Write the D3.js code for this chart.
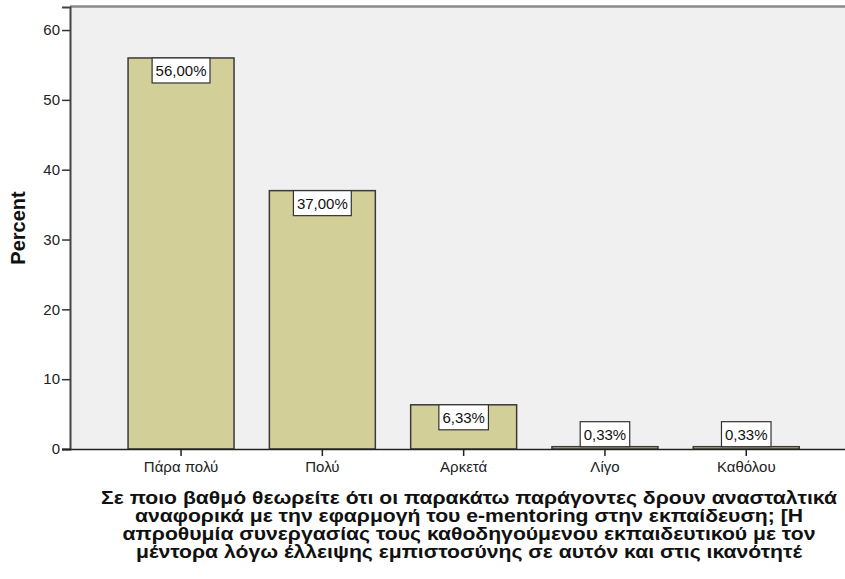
<!DOCTYPE html>
<html>
<head>
<meta charset="utf-8">
<script src="https://cdn.jsdelivr.net/npm/d3@7"></script>
<style>
  body { margin: 0; background: #fff; }
  svg { display: block; font-family: "Liberation Sans", Arial, sans-serif; }
</style>
</head>
<body>
<div id="chart"></div>
<script>
const categories = ["Πάρα πολύ", "Πολύ", "Αρκετά", "Λίγο", "Καθόλου"];
const percents = [56.00, 37.00, 6.33, 0.33, 0.33];
const yTicks = [0, 10, 20, 30, 40, 50, 60];
const titleLines = [
  "Σε ποιο βαθμό θεωρείτε ότι οι παρακάτω παράγοντες δρουν ανασταλτικά",
  "αναφορικά με την εφαρμογή του e-mentoring στην εκπαίδευση; [Η",
  "απροθυμία συνεργασίας τους καθοδηγούμενου εκπαιδευτικού με τον",
  "μέντορα λόγω έλλειψης εμπιστοσύνης σε αυτόν και στις ικανότητέ"
];

const W = 845, H = 579;
const plot = { left: 70, right: 845, top: 7, bottom: 449 };

const svg = d3.select("#chart").append("svg").attr("width", W).attr("height", H);

const x = d3.scaleBand().domain(categories)
  .range([110.4, 816.9]).paddingInner(0.25).paddingOuter(0.125);
const y = d3.scaleLinear().domain([0, 63.3]).range([plot.bottom, plot.top]);

// plot background + top frame
svg.append("rect")
  .attr("x", plot.left).attr("y", plot.top)
  .attr("width", plot.right - plot.left).attr("height", plot.bottom - plot.top)
  .attr("fill", "#f0f0f0");
svg.append("line")
  .attr("x1", plot.left).attr("x2", plot.right)
  .attr("y1", plot.top - 0.5).attr("y2", plot.top - 0.5)
  .attr("stroke", "#8a8a8a").attr("stroke-width", 2.5);

// bars
svg.append("g").selectAll("rect")
  .data(percents)
  .join("rect")
  .attr("x", (d, i) => x(categories[i]))
  .attr("width", x.bandwidth())
  .attr("y", d => y(d))
  .attr("height", d => y(0) - y(d))
  .attr("fill", "#d3cf98")
  .attr("stroke", "#3a3a3a")
  .attr("stroke-width", 1.5);

// y axis
const gy = svg.append("g").attr("transform", `translate(${plot.left},0)`)
  .call(d3.axisLeft(y).tickValues(yTicks).tickSize(8).tickPadding(2).tickFormat(d3.format("d")));
gy.select(".domain").attr("stroke", "#444").attr("stroke-width", 2);
gy.selectAll(".tick line").attr("stroke", "#333").attr("stroke-width", 1.5);
gy.selectAll(".tick text").attr("font-size", 15).attr("fill", "#222")
  .attr("font-family", "Liberation Sans, Arial, sans-serif");

// x axis
const gx = svg.append("g").attr("transform", `translate(0,${plot.bottom})`)
  .call(d3.axisBottom(x).tickSize(7).tickPadding(5).tickSizeOuter(0));
gx.select(".domain").attr("d", `M${plot.left - 8},0.5H${plot.right}`)
  .attr("stroke", "#222").attr("stroke-width", 1.5);
gx.selectAll(".tick line").attr("stroke", "#222").attr("stroke-width", 1.5);
gx.selectAll(".tick text").attr("font-size", 15).attr("fill", "#222")
  .attr("font-family", "Liberation Sans, Arial, sans-serif");

// value labels
const fmtPct = d => d3.format(".2f")(d).replace(".", ",") + "%";
const boxH = 25;
const labels = svg.append("g").selectAll("g")
  .data(percents)
  .join("g");
labels.each(function (d, i) {
  const g = d3.select(this);
  const cx = x(categories[i]) + x.bandwidth() / 2;
  const top = (y(0) - y(d)) >= boxH ? y(d) : y(d) - boxH;
  const rect = g.append("rect").attr("fill", "#fff").attr("stroke", "#333").attr("stroke-width", 1.2);
  const t = g.append("text")
    .attr("x", cx).attr("y", top + boxH / 2 + 5.5)
    .attr("text-anchor", "middle").attr("font-size", 15).attr("fill", "#111")
    .text(fmtPct(d));
  const w = t.node().getComputedTextLength() + 7;
  rect.attr("x", cx - w / 2).attr("y", top).attr("width", w).attr("height", boxH);
});

// y label
svg.append("text")
  .attr("transform", `translate(25,${(plot.top + plot.bottom) / 2}) rotate(-90)`)
  .attr("text-anchor", "middle")
  .attr("font-size", 20).attr("font-weight", "bold").attr("fill", "#111")
  .text("Percent");

// x title (wrapped, cut off like the original); bold face, stretched horizontally
svg.append("g")
  .attr("transform", "translate(469,0) scale(1.21,1)")
  .selectAll("text")
  .data(titleLines)
  .join("text")
  .attr("x", 0)
  .attr("y", (d, i) => 504 + i * 18)
  .attr("text-anchor", "middle")
  .attr("font-size", 17.5).attr("font-weight", "bold").attr("fill", "#111")
  .text(d => d);
</script>
</body>
</html>
